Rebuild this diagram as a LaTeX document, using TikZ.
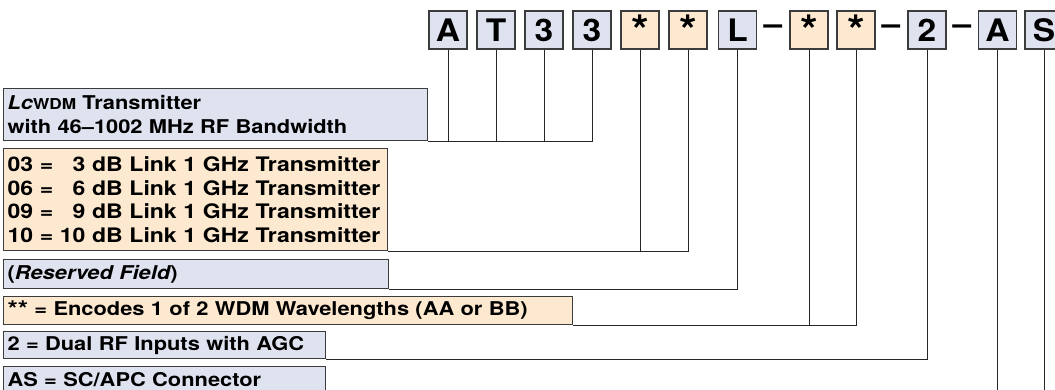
\documentclass[tikz,border=0pt]{standalone}
\usepackage{fontspec}
\setmainfont{TeX Gyre Heros}
\newfontfamily\boxfont[FakeStretch=1.15,WordSpace=1.6]{TeX Gyre Heros}
\newfontfamily\charfont[FakeStretch=1.08]{TeX Gyre Heros}
\definecolor{codeblue}{HTML}{DFE3F0}
\definecolor{codetan}{HTML}{FDE8D0}
\definecolor{edge}{HTML}{3C3C3C}

\begin{document}
\begin{tikzpicture}[x=1pt,y=-1pt,
  char/.style={draw=edge,line width=1.1pt,fill=codeblue,minimum size=38pt,inner sep=0pt,font=\charfont\fontsize{31}{31}\selectfont\bfseries},
  wild/.style={char,fill=codetan},
  dashmark/.style={inner sep=0pt,font=\charfont\fontsize{31}{31}\selectfont\bfseries},
  info/.style={draw=edge,line width=1.1pt,fill=codeblue,anchor=north west,inner xsep=4pt,inner ysep=0pt,align=left,font=\boxfont\fontsize{19}{23.5}\selectfont\bfseries},
  infotan/.style={info,fill=codetan},
  lead/.style={draw=black!85,line width=0.9pt}]
  \useasboundingbox (0,0) rectangle (1055,389);
  \clip (0,0) rectangle (1055,389);

  % part number
  \node[char] (c1) at (448,30) {A};
  \node[char] (c2) at (496,30) {T};
  \node[char] (c3) at (544,30) {3};
  \node[char] (c4) at (592,30) {3};
  \node[wild] (c5) at (640,30) {\raisebox{-8pt}{\fontsize{42}{42}\selectfont *}};
  \node[wild] (c6) at (688,30) {\raisebox{-8pt}{\fontsize{42}{42}\selectfont *}};
  \node[char] (c7) at (737.5,30) {L};
  \node[dashmark] (d1) at (773,30) {–};
  \node[wild] (c8) at (809,30) {\raisebox{-8pt}{\fontsize{42}{42}\selectfont *}};
  \node[wild] (c9) at (856,30) {\raisebox{-8pt}{\fontsize{42}{42}\selectfont *}};
  \node[dashmark] (d2) at (891,30) {–};
  \node[char] (c10) at (927,30) {2};
  \node[dashmark] (d3) at (962,30) {–};
  \node[char] (c11) at (997.5,30) {A};
  \node[char] (c12) at (1044,30) {S};

  % field descriptions
  \node[info,text width=416pt,minimum height=52pt] (lc) at (3,88)
    {{\itshape Lc}{\fontsize{15}{23.5}\selectfont WDM} Transmitter\\with 46–1002 MHz RF Bandwidth};
  \node[infotan,text width=376pt,minimum height=102pt,font=\boxfont\fontsize{20}{23.5}\selectfont\bfseries] (db) at (3,148)
    {03 = \phantom{1}3 dB Link 1 GHz Transmitter\\06 = \phantom{1}6 dB Link 1 GHz Transmitter\\09 = \phantom{1}9 dB Link 1 GHz Transmitter\\10 = 10 dB Link 1 GHz Transmitter};
  \node[info,text width=377pt,minimum height=29pt] (res) at (3,259) {({\itshape Reserved Field})};
  \node[infotan,text width=561pt,minimum height=28pt] (wl) at (3,296)
    {\raisebox{-2pt}{\fontsize{23}{23}\selectfont **} = Encodes 1 of 2 WDM Wavelengths (AA or BB)};
  \node[info,text width=314pt,minimum height=27pt] (rf) at (3,331) {2 = Dual RF Inputs with AGC};
  \node[info,text width=314pt,minimum height=26pt] (con) at (3,366) {AS = SC/APC Connector};

  % leaders
  \draw[lead] (c1.south) -- (c1.south |- lc.south);
  \draw[lead] (c2.south) -- (c2.south |- lc.south);
  \draw[lead] (c3.south) -- (c3.south |- lc.south);
  \draw[lead] (c4.south) |- (lc.south east);
  \draw[lead] (c5.south) -- (c5.south |- db.south);
  \draw[lead] (c6.south) |- (db.south east);
  \draw[lead] (c7.south) |- (res.south east);
  \draw[lead] (c8.south) -- (c8.south |- wl.south);
  \draw[lead] (c9.south) |- (wl.south east);
  \draw[lead] (c10.south) |- (rf.south east);
  \draw[lead] (c11.south) -- (c11.south |- con.south);
  \draw[lead] (c12.south) |- (con.south east);
\end{tikzpicture}
\end{document}
